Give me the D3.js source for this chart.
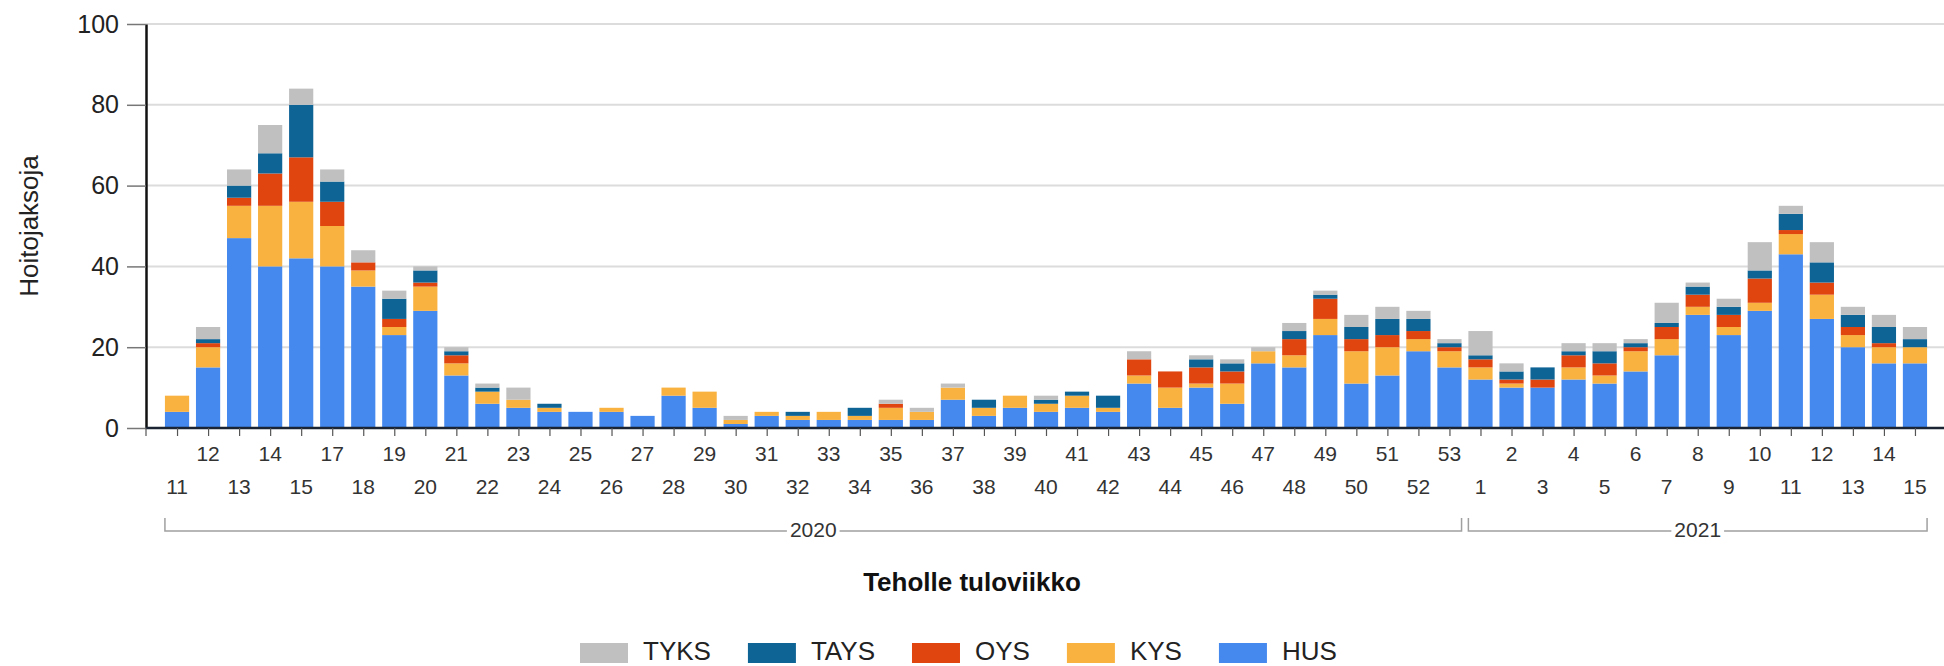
<!DOCTYPE html>
<html>
<head>
<meta charset="utf-8">
<script src="https://cdn.jsdelivr.net/npm/d3@7"></script>
<style>
  body { margin: 0; background: #fff; }
  svg { display: block; font-family: "Liberation Sans", Arial, sans-serif; }
</style>
</head>
<body>
<svg id="chart" width="1944" height="666"></svg>
<script>
// week categories (2020 has no week 16 in the source)
const years = [2020,2020,2020,2020,2020,2020,2020,2020,2020,2020,2020,2020,2020,2020,2020,2020,2020,2020,2020,2020,2020,2020,2020,2020,2020,2020,2020,2020,2020,2020,2020,2020,2020,2020,2020,2020,2020,2020,2020,2020,2020,2020,
  2021,2021,2021,2021,2021,2021,2021,2021,2021,2021,2021,2021,2021,2021,2021];
const weeks = [11,12,13,14,15,17,18,19,20,21,22,23,24,25,26,27,28,29,30,31,32,33,34,35,36,37,38,39,40,41,42,43,44,45,46,47,48,49,50,51,52,53,
  1,2,3,4,5,6,7,8,9,10,11,12,13,14,15];

// one array per hospital district, same order as weeks
const hus  = [4,15,47,40,42,40,35,23,29,13,6,5,4,4,4,3,8,5,1,3,2,2,2,2,2,7,3,5,4,5,4,11,5,10,6,16,15,23,11,13,19,15,
  12,10,10,12,11,14,18,28,23,29,43,27,20,16,16];
const kys  = [4,5,8,15,14,10,4,2,6,3,3,2,1,0,1,0,2,4,1,1,1,2,1,3,2,3,2,3,2,3,1,2,5,1,5,3,3,4,8,7,3,4,
  3,1,0,3,2,5,4,2,2,2,5,6,3,4,4];
const oys  = [0,1,2,8,11,6,2,2,1,2,0,0,0,0,0,0,0,0,0,0,0,0,0,1,0,0,0,0,0,0,0,4,4,4,3,0,4,5,3,3,2,1,
  2,1,2,3,3,1,3,3,3,6,1,3,2,1,0];
const tays = [0,1,3,5,13,5,0,5,3,1,1,0,1,0,0,0,0,0,0,0,1,0,2,0,0,0,2,0,1,1,3,0,0,2,2,0,2,1,3,4,3,1,
  1,2,3,1,3,1,1,2,2,2,4,5,3,4,2];
const tyks = [0,3,4,7,4,3,3,2,1,1,1,3,0,0,0,0,0,0,1,0,0,0,0,1,1,1,0,0,1,0,0,2,0,1,1,1,2,1,3,3,2,1,
  6,2,0,2,2,1,5,1,2,7,2,5,2,3,3];

const seriesNames = ['HUS', 'KYS', 'OYS', 'TAYS', 'TYKS'];
const seriesValues = [hus, kys, oys, tays, tyks];
const colors = {HUS: '#4589ef', KYS: '#f9b13f', OYS: '#e0440f', TAYS: '#0f6496', TYKS: '#c0c0c0'};
const yTicks = [0, 20, 40, 60, 80, 100];

const W = 1944, H = 666;
const mLeft = 146, mRight = 1946, mTop = 24, mBottom = 428;

const keys = weeks.map((w, i) => years[i] + '-' + w);
const rows = keys.map((k, i) => {
  const r = {key: k};
  seriesNames.forEach((s, j) => r[s] = seriesValues[j][i]);
  return r;
});

const svg = d3.select('#chart');

const x = d3.scalePoint().domain(keys).range([mLeft, mRight]).padding(1);
const step = x.step();
const bw = step * 0.78;
const y = d3.scaleLinear().domain([0, 100]).range([mBottom, mTop]);

// gridlines
svg.append('g').selectAll('line')
  .data(yTicks.slice(1))
  .enter().append('line')
  .attr('x1', mLeft).attr('x2', W)
  .attr('y1', d => y(d)).attr('y2', d => y(d))
  .attr('stroke', '#dcdcdc').attr('stroke-width', 2);

// stacked bars
const stack = d3.stack().keys(seriesNames)(rows);
svg.append('g').selectAll('g')
  .data(stack)
  .enter().append('g')
  .attr('fill', d => colors[d.key])
  .selectAll('rect')
  .data(d => d)
  .enter().append('rect')
  .attr('x', d => x(d.data.key) - bw / 2)
  .attr('width', bw)
  .attr('y', d => y(d[1]))
  .attr('height', d => y(d[0]) - y(d[1]));

// y axis
const yAxis = svg.append('g')
  .attr('transform', 'translate(' + mLeft + ',0)')
  .call(d3.axisLeft(y).tickValues(yTicks).tickSize(19).tickSizeOuter(0).tickPadding(8));
yAxis.select('.domain').attr('stroke', '#111').attr('stroke-width', 2.5);
yAxis.selectAll('.tick line').attr('stroke', '#777').attr('stroke-width', 1.5);
yAxis.selectAll('.tick text')
  .attr('font-size', 25).attr('fill', '#222')
  .attr('font-family', '"Liberation Sans", Arial, sans-serif');

// x axis: ticks at every week, labels on two alternating rows
const xAxis = svg.append('g')
  .attr('transform', 'translate(0,' + mBottom + ')')
  .call(d3.axisBottom(x).tickSize(8).tickSizeOuter(0).tickFormat(''));
xAxis.select('.domain').attr('d', 'M' + mLeft + ',0H' + W).attr('stroke', '#1b2433').attr('stroke-width', 2.5);
xAxis.selectAll('.tick line').attr('stroke', '#555').attr('stroke-width', 1.2);
xAxis.append('line').attr('x1', mLeft).attr('x2', mLeft).attr('y1', 0).attr('y2', 8)
  .attr('stroke', '#555').attr('stroke-width', 1.2);

svg.append('g').selectAll('text')
  .data(keys)
  .enter().append('text')
  .attr('x', d => x(d))
  .attr('y', (d, i) => i % 2 === 0 ? 488 : 455)
  .attr('text-anchor', 'middle')
  .attr('dominant-baseline', 'middle')
  .attr('font-size', 21)
  .attr('fill', '#333')
  .text((d, i) => weeks[i]);

// year brackets
const yearList = [2020, 2021];
yearList.forEach(yr => {
  const ks = keys.filter((k, i) => years[i] === yr);
  const x0 = x(ks[0]) - bw / 2, x1 = x(ks[ks.length - 1]) + bw / 2;
  const g = svg.append('g');
  g.append('path')
    .attr('d', 'M' + x0 + ',518V531H' + x1 + 'V518')
    .attr('fill', 'none').attr('stroke', '#a0a0a0').attr('stroke-width', 1.5);
  const t = g.append('text')
    .attr('x', (x0 + x1) / 2).attr('y', 531)
    .attr('text-anchor', 'middle').attr('dominant-baseline', 'middle')
    .attr('font-size', 21).attr('fill', '#333')
    .text(yr);
  const bb = t.node().getBBox();
  g.insert('rect', 'text')
    .attr('x', bb.x - 3).attr('y', 524).attr('width', bb.width + 6).attr('height', 14)
    .attr('fill', '#fff');
});

// axis titles
svg.append('text')
  .attr('transform', 'translate(31,226) rotate(-90)')
  .attr('text-anchor', 'middle').attr('dominant-baseline', 'middle')
  .attr('font-size', 26).attr('fill', '#222')
  .text('Hoitojaksoja');

svg.append('text')
  .attr('x', W / 2).attr('y', 584)
  .attr('text-anchor', 'middle').attr('dominant-baseline', 'middle')
  .attr('font-size', 26).attr('font-weight', 'bold').attr('fill', '#111')
  .text('Teholle tuloviikko');

// legend
const legendOrder = ['TYKS', 'TAYS', 'OYS', 'KYS', 'HUS'];
const legend = svg.append('g');
let lx = 0;
legendOrder.forEach(name => {
  const item = legend.append('g').attr('transform', 'translate(' + lx + ',0)');
  item.append('rect').attr('x', 0).attr('y', 643).attr('width', 48).attr('height', 20)
    .attr('fill', colors[name]);
  const t = item.append('text')
    .attr('x', 63).attr('y', 653)
    .attr('dominant-baseline', 'middle')
    .attr('font-size', 26).attr('fill', '#222')
    .text(name);
  lx += 63 + t.node().getComputedTextLength() + 37;
});
legend.attr('transform', 'translate(580,0)');
</script>
</body>
</html>
